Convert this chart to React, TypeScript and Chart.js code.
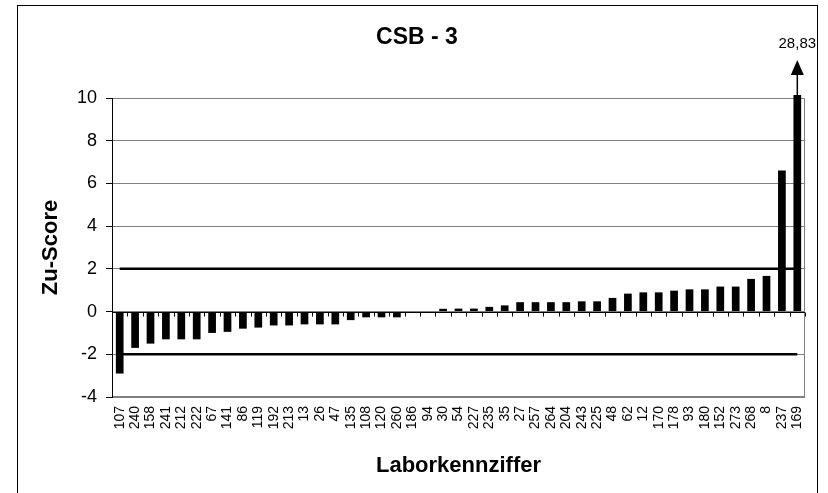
import React, { useEffect, useRef } from 'react';
import { Chart, registerables } from 'chart.js';

Chart.register(...registerables);

const FONT = "Arial, 'Liberation Sans', sans-serif";

const chartTitle = 'CSB - 3';
const xTitle = 'Laborkennziffer';
const yTitle = 'Zu-Score';

const labels = ['107', '240', '158', '241', '212', '222', '67', '141', '86', '119', '192', '213', '13', '26', '47', '135', '108', '120', '260', '186', '94', '30', '54', '227', '235', '35', '27', '257', '264', '204', '243', '225', '48', '62', '12', '170', '178', '93', '180', '152', '273', '268', '8', '237', '169'];
const zScores = [-2.9, -1.7, -1.5, -1.3, -1.3, -1.3, -1.0, -0.95, -0.8, -0.75, -0.65, -0.65, -0.6, -0.6, -0.6, -0.4, -0.27, -0.27, -0.27, 0, 0, 0.13, 0.14, 0.14, 0.22, 0.29, 0.44, 0.44, 0.44, 0.44, 0.48, 0.48, 0.64, 0.84, 0.9, 0.9, 0.98, 1.04, 1.04, 1.17, 1.17, 1.53, 1.67, 6.6, 28.83];

const Y_MIN = -4;
const Y_MAX = 10;
const Y_STEP = 2;
const upperLimit = 2;
const lowerLimit = -2;

const formatDe = (v: number) => v.toFixed(2).replace('.', ',');

const decorPlugin = {
  id: 'decor',
  beforeDatasetsDraw(chart: any) {
    const { ctx, chartArea: a } = chart;
    ctx.save();
    ctx.strokeStyle = '#808080';
    ctx.lineWidth = 1;
    ctx.strokeRect(a.left + 0.5, a.top + 0.5, a.right - a.left - 1, a.bottom - a.top - 1);
    ctx.restore();
  },
  afterDatasetsDraw(chart: any) {
    const { ctx, chartArea: a, scales } = chart;
    const x = scales.x;
    const y = scales.y;
    ctx.save();
    // zero (category) axis with tick marks between categories
    const y0 = Math.round(y.getPixelForValue(0)) + 0.5;
    ctx.strokeStyle = '#000';
    ctx.lineWidth = 1;
    ctx.beginPath();
    ctx.moveTo(a.left, y0);
    ctx.lineTo(a.right, y0);
    const step = x.getPixelForValue(1) - x.getPixelForValue(0);
    for (let i = 0; i <= labels.length; i++) {
      const px = Math.round(x.getPixelForValue(i) - step / 2) + 0.5;
      ctx.moveTo(px, y0);
      ctx.lineTo(px, y0 + 4);
    }
    ctx.stroke();
    // left axis line
    ctx.beginPath();
    ctx.moveTo(a.left + 0.5, a.top);
    ctx.lineTo(a.left + 0.5, a.bottom);
    ctx.stroke();

    // overflow arrow(s)
    const meta = chart.getDatasetMeta(0);
    zScores.forEach((v, i) => {
      if (v <= Y_MAX) return;
      const bx = meta.data[i].x;
      const barTop = meta.data[i].y;
      ctx.strokeStyle = '#000';
      ctx.fillStyle = '#000';
      ctx.lineWidth = 1.5;
      ctx.beginPath();
      ctx.moveTo(bx, barTop);
      ctx.lineTo(bx, a.top - 23);
      ctx.stroke();
      ctx.beginPath();
      ctx.moveTo(bx, a.top - 38);
      ctx.lineTo(bx + 6.5, a.top - 23);
      ctx.lineTo(bx - 6.5, a.top - 23);
      ctx.closePath();
      ctx.fill();
      ctx.font = `15px ${FONT}`;
      ctx.textAlign = 'center';
      ctx.textBaseline = 'middle';
      ctx.fillText(formatDe(v), bx, a.top - 54);
    });
    ctx.restore();
  },
};

export default function App() {
  const ref = useRef<HTMLCanvasElement | null>(null);

  useEffect(() => {
    if (!ref.current) return;
    const shown = zScores.map((v) => Math.min(v, Y_MAX + 0.14));
    const chart = new Chart(ref.current, {
      type: 'bar',
      data: {
        labels,
        datasets: [
          {
            type: 'bar',
            data: shown,
            backgroundColor: '#000',
            borderWidth: 0,
            barPercentage: 0.5,
            categoryPercentage: 1,
            clip: false as any,
          },
          {
            type: 'line',
            data: labels.map(() => upperLimit),
            borderColor: '#000',
            borderWidth: 2.5,
            pointRadius: 0,
            fill: false,
          },
          {
            type: 'line',
            data: labels.map(() => lowerLimit),
            borderColor: '#000',
            borderWidth: 2.5,
            pointRadius: 0,
            fill: false,
          },
        ] as any,
      },
      options: {
        responsive: false,
        animation: false,
        devicePixelRatio: 1,
        layout: { padding: { left: 6, right: 0, top: 0, bottom: 0 } },
        plugins: {
          legend: { display: false },
          tooltip: { enabled: false },
          title: {
            display: true,
            text: chartTitle,
            color: '#000',
            font: { family: FONT, size: 23, weight: 'bold' },
            padding: { top: 24, bottom: 46.4 },
          },
        },
        scales: {
          x: {
            type: 'category',
            offset: true,
            grid: { display: false, drawTicks: false },
            border: { display: false },
            ticks: {
              autoSkip: false,
              maxRotation: 90,
              minRotation: 90,
              color: '#000',
              font: { family: FONT, size: 14 },
              padding: 9,
            },
            title: {
              display: true,
              text: xTitle,
              color: '#000',
              font: { family: FONT, size: 22, weight: 'bold' },
              padding: { top: 0, bottom: 14 },
            },
            afterFit: (s: any) => {
              s.height = 96;
            },
          },
          y: {
            min: Y_MIN,
            max: Y_MAX,
            ticks: {
              stepSize: Y_STEP,
              color: '#000',
              font: { family: FONT, size: 18 },
              padding: 9,
            },
            grid: { color: '#808080', tickColor: '#000', tickLength: 6 },
            border: { display: true, color: '#000' },
            title: {
              display: true,
              text: yTitle,
              color: '#000',
              font: { family: FONT, size: 22, weight: 'bold' },
              padding: { top: 32, bottom: 0 },
            },
            afterFit: (s: any) => {
              s.width = 106;
            },
          },
          yRight: {
            position: 'right',
            display: true,
            min: Y_MIN,
            max: Y_MAX,
            grid: { display: false, drawTicks: false },
            border: { display: false },
            ticks: { display: false },
            afterFit: (s: any) => {
              s.width = 23;
            },
          },
        },
      } as any,
      plugins: [decorPlugin],
    });
    return () => chart.destroy();
  }, []);

  return (
    <div style={{ position: 'fixed', left: 0, top: 0, width: 828, height: 493, background: '#fff', overflow: 'hidden' }}>
      <canvas ref={ref} width={828} height={493} style={{ position: 'absolute', left: 0, top: 0 }} />
      <div
        style={{
          position: 'absolute',
          left: 17,
          top: 5,
          width: 799,
          height: 520,
          border: '1px solid #000',
          pointerEvents: 'none',
        }}
      />
    </div>
  );
}
